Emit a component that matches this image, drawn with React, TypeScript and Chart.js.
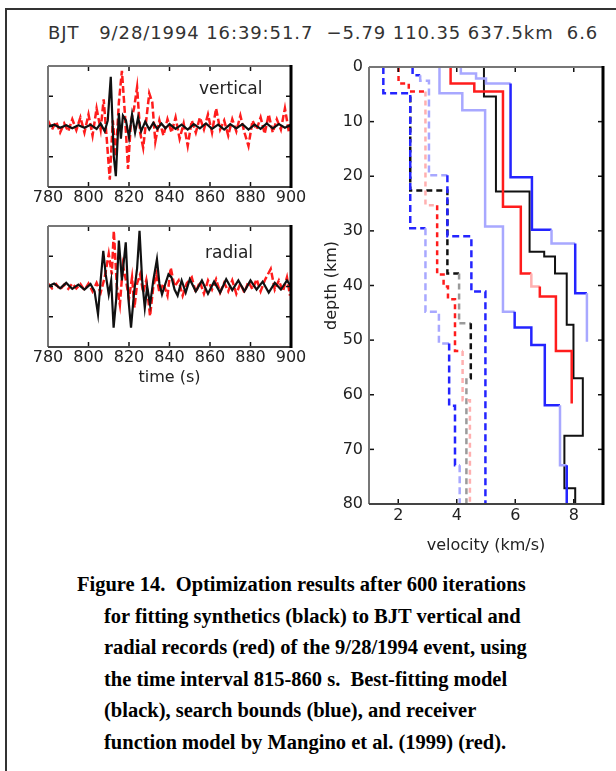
import React, { useEffect, useRef } from 'react';
import { Chart, registerables } from 'chart.js';
Chart.register(...registerables);

// ---------- tick values ----------
const timeTicks = [780, 800, 820, 840, 860, 880, 900];
const ampTicks = [-0.5, 0, 0.5];
const velTicks = [2, 4, 6, 8];
const depthTicks = [0, 10, 20, 30, 40, 50, 60, 70, 80];

// ---------- waveforms: vertical component ----------
const vertSynthT = [780, 783, 786, 789, 792, 795, 798, 801, 804, 806, 808, 809.5,
  811, 812.5, 813.5, 815, 816, 817, 818.5, 820, 821.5, 823,
  824.5, 826, 828, 830, 832, 834, 836, 838, 840, 843,
  846, 849, 852, 855, 858, 861, 864, 867, 870, 873,
  876, 879, 882, 885, 888, 891, 894, 897, 900];
const vertSynthA = [0, 0.03, -0.02, 0.02, -0.03, 0.02, -0.02, 0.03, -0.04, 0.05, -0.08, 0.1,
  0.82, -0.5, -0.82, 0.22, -0.2, 0.18, 0.1, -0.18, 0.2, -0.1,
  0.15, -0.08, 0.08, -0.05, 0.06, -0.04, 0.05, -0.03, 0.04, -0.04,
  0.03, -0.05, 0.04, -0.03, 0.05, -0.04, 0.03, -0.05, 0.04, -0.03,
  0.04, -0.05, 0.03, -0.04, 0.05, -0.03, 0.04, -0.02, 0.03];
const vertDataT = [780, 782, 784, 786, 788, 790, 792, 794, 796, 798, 800, 802, 804, 806,
  807.5, 809, 810.5, 812, 813.5, 815, 816.5, 818, 819.5, 821,
  822.5, 824, 825.5, 827, 828.5, 830, 831.5, 833, 835, 837,
  839, 841, 843, 845, 847, 849, 851, 853, 855, 857,
  859, 861, 863, 865, 867, 869, 871, 873, 875, 877,
  879, 881, 883, 885, 887, 889, 891, 893, 895, 897,
  899, 900];
const vertDataA = [0.1, -0.05, 0.08, -0.1, 0.05, -0.08, 0.12, -0.06, 0.15, -0.1, 0.2, -0.15, 0.3, -0.05,
  0.45, -0.2, -0.88, 0.1, -0.5, 0.4, 0.92, 0.2, -0.7, 0.1,
  0.3, 0.65, -0.1, -0.35, 0.1, 0.55, 0.4, -0.25, 0.1, -0.15,
  0.12, -0.1, 0.15, -0.2, 0.05, -0.32, 0.1, -0.1, 0.15, -0.05,
  0.2, -0.1, 0.3, -0.05, 0.1, -0.15, 0.12, -0.08, 0.18, -0.1,
  -0.32, 0.1, -0.05, 0.15, -0.12, 0.2, -0.1, 0.12, -0.05, 0.3,
  -0.1, 0.05];

// ---------- waveforms: radial component ----------
const radSynthT = [780, 783, 786, 789, 792, 795, 798, 801,
  803, 804.7, 806, 807.3, 808.5, 810, 811.2, 812.4, 813.7, 815,
  816.5, 818.4, 819.7, 821, 822.5, 824, 825.2, 826.5, 827.8, 829,
  830.4, 832, 833.8, 835, 836.3, 838, 839.5, 841, 842.5, 844,
  846, 848, 850, 853, 856, 859, 862, 865, 868, 871,
  874, 877, 880, 883, 886, 889, 892, 895, 898, 900];
const radSynthA = [0, 0.05, -0.03, 0.06, -0.04, 0.03, -0.05, 0.04,
  -0.08, -0.46, 0.1, 0.59, 0.2, -0.13, 0.1, -0.68, -0.2, 0.76,
  0.1, 0.73, -0.2, -0.68, -0.1, 0.3, 0.92, 0.1, -0.35, 0.0,
  -0.3, 0.1, 0.45, 0.05, -0.13, 0.05, 0.2, 0.15, -0.05, -0.15,
  0.1, -0.1, 0.12, -0.08, 0.1, -0.12, 0.08, -0.1, 0.12, -0.06,
  0.1, -0.08, 0.1, -0.05, 0.08, -0.1, 0.06, -0.05, 0.1, 0.0];
const radDataT = [780, 782, 784, 786, 788, 790, 792, 794, 796, 798, 800, 802, 804, 806,
  808, 810, 811.5, 812.5, 814, 815.5, 817, 818.5, 820, 821.5,
  822.7, 824, 825.5, 827, 828.5, 830.4, 832, 833.5, 835, 837,
  839, 840.6, 842.5, 844.5, 846.5, 848.5, 851, 853, 855, 857,
  859, 861, 863, 865, 867, 869, 871, 873, 875, 877,
  879, 881, 883, 885, 887, 890, 892, 894, 896, 898,
  899.5];
const radDataA = [0.05, -0.03, 0.04, -0.05, 0.03, -0.04, 0.05, -0.03, 0.04, -0.06, 0.05, -0.08, 0.06, -0.1,
  0.15, 0.54, 0.2, 0.92, 0.0, -0.3, 0.35, 0.1, -0.2, 0.15,
  -0.35, 0.05, 0.2, -0.1, 0.1, -0.49, 0.0, 0.2, -0.1, 0.05,
  -0.15, 0.31, 0.0, 0.1, -0.15, 0.05, 0.15, -0.1, 0.08, -0.12,
  0.1, -0.05, 0.12, -0.1, 0.06, -0.08, 0.1, -0.12, 0.05, -0.1,
  0.08, -0.05, 0.12, -0.08, 0.1, 0.29, -0.05, 0.1, -0.08, 0.15,
  -0.15];

// ---------- velocity models (layer top depth km, velocity km/s, bottom depth) ----------
const upperPTops = [0, 1.2, 2.1, 3.0, 20.2, 29.8, 32.3, 41.4];
const upperPVel = [4.14, 4.66, 5.0, 5.84, 6.57, 7.24, 8.05, 8.45];
const upperPBottom = 50.3;

const lowerPTops = [0, 4.8, 7.9, 29.2, 44.8, 47.7, 50.9, 61.9, 72.9];
const lowerPVel = [3.41, 4.19, 4.97, 5.58, 5.98, 6.55, 7.01, 7.53, 7.76];
const lowerPBottom = 80;

const upperSTops = [0, 1.5, 2.5, 19.8, 31.0, 41.1];
const upperSVel = [2.49, 2.75, 3.05, 3.68, 4.5, 4.98];
const upperSBottom = 80;

const lowerSTops = [0, 4.8, 29.5, 44.8, 50.6, 62.0, 72.9];
const lowerSVel = [1.49, 2.41, 2.93, 3.39, 3.74, 3.94, 4.1];
const lowerSBottom = 80;

const mangPTops = [0, 3.0, 4.5, 25.6, 37.8, 40.2, 42.0, 52.0];
const mangPVel = [3.79, 4.6, 5.58, 6.19, 6.55, 6.84, 7.39, 7.93];
const mangPBottom = 61.6;

const mangSTops = [0, 3.0, 4.5, 25.3, 38.0, 40.2, 42.5, 52.0, 61.0];
const mangSVel = [2.01, 2.36, 2.93, 3.33, 3.55, 3.7, 3.94, 4.2, 4.45];
const mangSBottom = 80;

const bestPTops = [0, 5.4, 22.8, 33.8, 34.7, 37.8, 47.2, 57.0, 67.5, 77.1];
const bestPVel = [4.93, 5.34, 6.49, 6.99, 7.36, 7.76, 7.99, 8.31, 7.68, 8.05];
const bestPBottom = 80;

const bestSTops = [5.4, 22.6, 37.8, 46.9, 57.0];
const bestSVel = [2.41, 3.68, 4.08, 4.48, 4.33];
const bestSBottom = 80;

// ---------- styling ----------
const FONT = '"DejaVu Sans", sans-serif';
const BLUE = '#2424ff';
const LIGHT_BLUE = '#a8a8ff';
const RED = '#ff1c1c';
const LIGHT_RED = '#ffb0b0';
const BLACK = '#111111';
const GRAY = '#9a9a9a';

// which depth spans of each line appear faded in the printed figure (styling only)
const fadeLowerP = (d: number) => d < 44 || (d > 61 && d < 72);
const fadeUpperP = (d: number) => d < 2.5 || (d > 29 && d < 31) || d > 41;
const fadeUpperS = (d: number) => (d > 1 && d < 19);
const fadeLowerS = (d: number) => (d > 29 && d < 50) || d > 72;
const fadeMangP = (d: number) => d > 37 && d < 40;
const fadeMangS = (d: number) => (d > 4 && d < 25) || d > 51;
const fadeBestS = (d: number) => (d > 37 && d < 46) || d > 56;
const noFade = (_d: number) => false;

const frameTicks = {
  id: 'frameTicks',
  afterDatasetsDraw(chart: any) {
    const { ctx, chartArea: a, scales } = chart;
    const xs = scales.x;
    const ys = scales.y;
    const seg = (x1: number, y1: number, x2: number, y2: number) => {
      ctx.beginPath(); ctx.moveTo(x1, y1); ctx.lineTo(x2, y2); ctx.stroke();
    };
    ctx.save();
    ctx.strokeStyle = '#111';
    ctx.lineWidth = 1.5;
    const L = 5;
    xs.ticks.forEach((t: any) => {
      const p = xs.getPixelForValue(t.value);
      seg(p, a.bottom, p, a.bottom - L);
      seg(p, a.top, p, a.top + L);
    });
    ys.ticks.forEach((t: any) => {
      const p = ys.getPixelForValue(t.value);
      seg(a.left, p, a.left + L, p);
      seg(a.right, p, a.right - L, p);
    });
    ctx.strokeStyle = '#777';
    ctx.lineWidth = 2;
    seg(a.left, a.top, a.right, a.top);
    seg(a.left, a.top, a.left, a.bottom);
    ctx.strokeStyle = '#444';
    seg(a.left, a.bottom, a.right, a.bottom);
    ctx.strokeStyle = '#000';
    ctx.lineWidth = 3;
    seg(a.right, a.top - 1, a.right, a.bottom + 1);
    ctx.restore();
  },
};

const toPoints = (xs: number[], ys: number[]) => xs.map((x, i) => ({ x, y: ys[i] }));
const profile = (tops: number[], vels: number[], bottom: number) => [
  ...tops.map((d, i) => ({ x: vels[i], y: d })),
  { x: vels[vels.length - 1], y: bottom },
];

type Series = { t: number[]; a: number[]; color: string; dash: number[]; width: number };

function WaveChart({ top, axisH, series, title }: { top: number; axisH: number; series: Series[]; title?: string }) {
  const ref = useRef<HTMLCanvasElement>(null);
  const h = 8 + 121 + axisH;
  useEffect(() => {
    const chart = new Chart(ref.current as HTMLCanvasElement, {
      type: 'scatter',
      data: {
        datasets: series.map((s) => ({
          data: toPoints(s.t, s.a),
          showLine: true,
          borderColor: s.color,
          borderWidth: s.width,
          borderDash: s.dash,
          pointRadius: 0,
          tension: 0,
        })),
      },
      options: {
        responsive: false,
        animation: false,
        events: [],
        layout: { padding: { top: 8, right: 17, left: 0, bottom: 0 } },
        plugins: { legend: { display: false }, tooltip: { enabled: false } },
        scales: {
          x: {
            type: 'linear', min: 780, max: 900,
            afterBuildTicks: (s: any) => { s.ticks = timeTicks.map((v) => ({ value: v })); },
            grid: { display: false, drawTicks: false }, border: { display: false },
            ticks: { font: { family: FONT, size: 16 }, color: '#222', padding: 1, maxRotation: 0, autoSkip: false },
            title: title
              ? { display: true, text: title, font: { family: FONT, size: 16 }, color: '#222', padding: { top: 2, bottom: 4 } }
              : { display: false },
            afterFit: (s: any) => { s.height = axisH; s.paddingLeft = 0; s.paddingRight = 0; },
          },
          y: {
            type: 'linear', min: -1, max: 1,
            afterBuildTicks: (s: any) => { s.ticks = ampTicks.map((v) => ({ value: v })); },
            grid: { display: false, drawTicks: false }, border: { display: false },
            ticks: { display: false },
            afterFit: (s: any) => { s.width = 40; s.paddingTop = 0; s.paddingBottom = 0; },
          },
        },
      } as any,
      plugins: [frameTicks],
    });
    return () => chart.destroy();
  }, []);
  return (
    <canvas ref={ref} width={300} height={h}
      style={{ position: 'absolute', left: 8, top, width: 300, height: h }} />
  );
}

function ProfileChart() {
  const ref = useRef<HTMLCanvasElement>(null);
  const LEFT = 318;
  const W = 616 - LEFT;
  const H = 12 + 437 + 55;
  useEffect(() => {
    const ds = (data: any[], color: string, light: string, fade: (d: number) => boolean, width: number, dash: number[]) => ({
      data, showLine: true, stepped: 'after', borderColor: color, borderWidth: width,
      borderDash: dash, pointRadius: 0, fill: false,
      segment: { borderColor: (c: any) => (fade(c.p0.parsed.y) ? light : color) },
    });
    const chart = new Chart(ref.current as HTMLCanvasElement, {
      type: 'scatter',
      data: {
        datasets: [
          ds(profile(lowerSTops, lowerSVel, lowerSBottom), BLUE, LIGHT_BLUE, fadeLowerS, 2.5, [7, 4]),
          ds(profile(upperSTops, upperSVel, upperSBottom), BLUE, LIGHT_BLUE, fadeUpperS, 2.5, [7, 4]),
          ds(profile(lowerPTops, lowerPVel, lowerPBottom), BLUE, LIGHT_BLUE, fadeLowerP, 2.5, []),
          ds(profile(upperPTops, upperPVel, upperPBottom), BLUE, LIGHT_BLUE, fadeUpperP, 2.5, []),
          ds(profile(mangSTops, mangSVel, mangSBottom), RED, LIGHT_RED, fadeMangS, 2.5, [5, 4]),
          ds(profile(mangPTops, mangPVel, mangPBottom), RED, LIGHT_RED, fadeMangP, 2.5, []),
          ds(profile(bestSTops, bestSVel, bestSBottom), BLACK, GRAY, fadeBestS, 2.5, [6, 4]),
          ds(profile(bestPTops, bestPVel, bestPBottom), BLACK, GRAY, noFade, 2, []),
        ],
      },
      options: {
        responsive: false,
        animation: false,
        events: [],
        layout: { padding: { top: 12, right: 13, left: 0, bottom: 0 } },
        plugins: { legend: { display: false }, tooltip: { enabled: false } },
        scales: {
          x: {
            type: 'linear', min: 1, max: 9,
            afterBuildTicks: (s: any) => { s.ticks = velTicks.map((v) => ({ value: v })); },
            grid: { display: false, drawTicks: false }, border: { display: false },
            ticks: { font: { family: FONT, size: 16 }, color: '#222', padding: 2, maxRotation: 0, autoSkip: false },
            title: { display: true, text: 'velocity (km/s)', font: { family: FONT, size: 16 }, color: '#222', padding: { top: 2, bottom: 4 } },
            afterFit: (s: any) => { s.height = 55; s.paddingLeft = 0; s.paddingRight = 0; },
          },
          y: {
            type: 'linear', min: 0, max: 80, reverse: true,
            afterBuildTicks: (s: any) => { s.ticks = depthTicks.map((v) => ({ value: v })); },
            grid: { display: false, drawTicks: false }, border: { display: false },
            ticks: { font: { family: FONT, size: 16 }, color: '#222', padding: 6, autoSkip: false },
            title: { display: true, text: 'depth (km)', font: { family: FONT, size: 16 }, color: '#222', padding: { top: 4, bottom: 2 } },
            afterFit: (s: any) => { s.width = 369 - LEFT; s.paddingTop = 0; s.paddingBottom = 0; },
          },
        },
      } as any,
      plugins: [frameTicks],
    });
    return () => chart.destroy();
  }, []);
  return (
    <canvas ref={ref} width={W} height={H}
      style={{ position: 'absolute', left: LEFT, top: 55, width: W, height: H }} />
  );
}

const captionLines = [
  'Figure 14.  Optimization results after 600 iterations',
  'for fitting synthetics (black) to BJT vertical and',
  'radial records (red) of the 9/28/1994 event, using',
  'the time interval 815-860 s.  Best-fitting model',
  '(black), search bounds (blue), and receiver',
  'function model by Mangino et al. (1999) (red).',
];

export default function App() {
  const label: React.CSSProperties = {
    position: 'absolute', fontFamily: FONT, fontSize: 17, lineHeight: '20px', color: '#222', whiteSpace: 'pre',
  };
  return (
    <div style={{ position: 'absolute', left: 0, top: 0, width: 616, height: 771, overflow: 'hidden', background: '#fff' }}>
      <div style={{ position: 'absolute', left: 5, top: 8, width: 700, height: 800, border: '2px solid #333', boxSizing: 'border-box' }} />
      <div style={{ position: 'absolute', left: 48, top: 23, fontFamily: FONT, fontSize: 18, lineHeight: '20px', letterSpacing: 0.9, color: '#333', whiteSpace: 'pre' }}>
        {'BJT   9/28/1994 16:39:51.7  \u22125.79 110.35 637.5km  6.6'}
      </div>
      <WaveChart top={58} axisH={22} series={[
        { t: vertSynthT, a: vertSynthA, color: BLACK, dash: [], width: 2.2 },
        { t: vertDataT, a: vertDataA, color: RED, dash: [7, 3], width: 2.5 },
      ]} />
      <WaveChart top={218} axisH={44} title="time (s)" series={[
        { t: radSynthT, a: radSynthA, color: BLACK, dash: [], width: 2.2 },
        { t: radDataT, a: radDataA, color: RED, dash: [7, 3], width: 2.5 },
      ]} />
      <div style={{ ...label, left: 199, top: 78 }}>vertical</div>
      <div style={{ ...label, left: 205, top: 242 }}>radial</div>
      <ProfileChart />
      {captionLines.map((line, i) => (
        <div key={i} style={{
          position: 'absolute', left: i === 0 ? 77 : 104, top: 569 + i * 31.6,
          fontFamily: '"Liberation Serif", "Times New Roman", serif', fontWeight: 'bold', fontSize: 20.5,
          lineHeight: '31.6px', color: '#000', whiteSpace: 'pre',
        }}>{line}</div>
      ))}
    </div>
  );
}
